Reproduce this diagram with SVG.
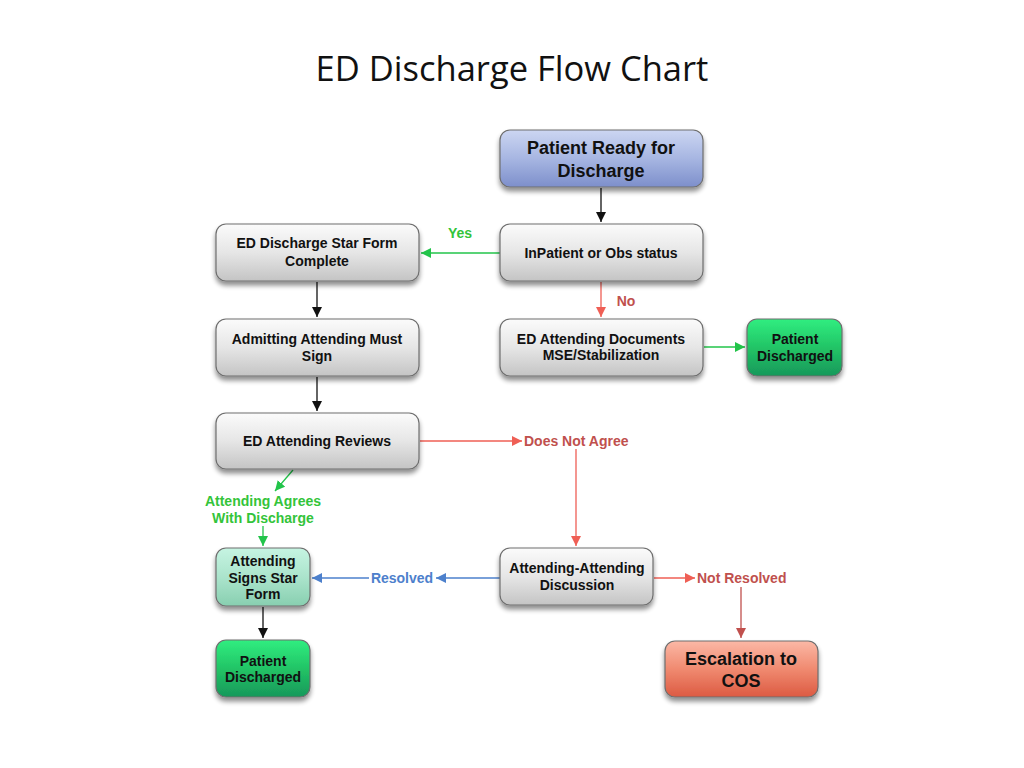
<svg xmlns="http://www.w3.org/2000/svg" width="1024" height="768" viewBox="0 0 1024 768">
<defs>
<linearGradient id="gGray" x1="0" y1="0" x2="0" y2="1"><stop offset="0" stop-color="#fbfbfb"/><stop offset="0.5" stop-color="#e6e6e6"/><stop offset="1" stop-color="#c4c4c4"/></linearGradient>
<linearGradient id="gBlue" x1="0" y1="0" x2="0" y2="1"><stop offset="0" stop-color="#ccd6f2"/><stop offset="0.5" stop-color="#a7b6e2"/><stop offset="1" stop-color="#7d8fcb"/></linearGradient>
<linearGradient id="gGreen" x1="0" y1="0" x2="0" y2="1"><stop offset="0" stop-color="#30ee80"/><stop offset="0.5" stop-color="#22c466"/><stop offset="1" stop-color="#17985a"/></linearGradient>
<linearGradient id="gTeal" x1="0" y1="0" x2="0" y2="1"><stop offset="0" stop-color="#c6f4e2"/><stop offset="0.5" stop-color="#abe4cc"/><stop offset="1" stop-color="#88cfb0"/></linearGradient>
<linearGradient id="gRed" x1="0" y1="0" x2="0" y2="1"><stop offset="0" stop-color="#fbb8a6"/><stop offset="0.5" stop-color="#f08a70"/><stop offset="1" stop-color="#dc5a42"/></linearGradient>
<filter id="sh" x="-10%" y="-10%" width="120%" height="140%"><feGaussianBlur in="SourceAlpha" stdDeviation="2.5"/><feOffset dy="4" result="b"/><feComponentTransfer><feFuncA type="linear" slope="0.45"/></feComponentTransfer><feMerge><feMergeNode/><feMergeNode in="SourceGraphic"/></feMerge></filter>
<marker id="aBlack" viewBox="0 0 10 10" refX="10" refY="5" markerWidth="10" markerHeight="10" markerUnits="userSpaceOnUse" orient="auto"><path d="M0,0 L10,5 L0,10 z" fill="#111"/></marker>
<marker id="aGreen" viewBox="0 0 10 10" refX="10" refY="5" markerWidth="10" markerHeight="10" markerUnits="userSpaceOnUse" orient="auto"><path d="M0,0 L10,5 L0,10 z" fill="#22c44a"/></marker>
<marker id="aRed" viewBox="0 0 10 10" refX="10" refY="5" markerWidth="10" markerHeight="10" markerUnits="userSpaceOnUse" orient="auto"><path d="M0,0 L10,5 L0,10 z" fill="#ef5f55"/></marker>
<marker id="aDRed" viewBox="0 0 10 10" refX="10" refY="5" markerWidth="10" markerHeight="10" markerUnits="userSpaceOnUse" orient="auto"><path d="M0,0 L10,5 L0,10 z" fill="#c0504d"/></marker>
<marker id="aBlue" viewBox="0 0 10 10" refX="10" refY="5" markerWidth="10" markerHeight="10" markerUnits="userSpaceOnUse" orient="auto"><path d="M0,0 L10,5 L0,10 z" fill="#4d80cc"/></marker>
</defs>
<style>
.box{stroke:#6e6e6e;stroke-width:1.2;filter:url(#sh)}
.t{font-family:"Liberation Sans",Arial,sans-serif;font-weight:bold;font-size:14px;fill:#111;text-anchor:middle}
.tl{font-family:"Liberation Sans",Arial,sans-serif;font-weight:bold;font-size:18px;fill:#111;text-anchor:middle}
.lbl{font-family:"Liberation Sans",Arial,sans-serif;font-weight:bold;font-size:14px}
.c{fill:none;stroke-width:1.3}
</style>
<rect width="1024" height="768" fill="#fff"/>
<text x="512" y="81" font-family="'Open Sans','Liberation Sans',sans-serif" font-size="34.5" fill="#111" text-anchor="middle">ED Discharge Flow Chart</text>

<g id="connectors">
<path class="c" d="M601,188 V222" stroke="#111" marker-end="url(#aBlack)"/>
<path class="c" d="M500,253 H421" stroke="#22c44a" marker-end="url(#aGreen)"/>
<path class="c" d="M601,282 V317" stroke="#ef5f55" marker-end="url(#aRed)"/>
<path class="c" d="M704,347 H745" stroke="#22c44a" marker-end="url(#aGreen)"/>
<path class="c" d="M317,282 V317" stroke="#111" marker-end="url(#aBlack)"/>
<path class="c" d="M317,377 V411" stroke="#111" marker-end="url(#aBlack)"/>
<path class="c" d="M420,441 H522" stroke="#ef5f55" marker-end="url(#aRed)"/>
<path class="c" d="M576,449 V546" stroke="#ef5f55" marker-end="url(#aRed)"/>
<path class="c" d="M293,470 L275,491" stroke="#22c44a" marker-end="url(#aGreen)"/>
<path class="c" d="M263,526 V546" stroke="#22c44a" marker-end="url(#aGreen)"/>
<path class="c" d="M500,578 H436" stroke="#4d80cc" marker-end="url(#aBlue)"/>
<path class="c" d="M369,578 H312" stroke="#4d80cc" marker-end="url(#aBlue)"/>
<path class="c" d="M654,578 H695" stroke="#ef5f55" marker-end="url(#aRed)"/>
<path class="c" d="M741,587 V638" stroke="#c0504d" marker-end="url(#aDRed)"/>
<path class="c" d="M263,607 V638" stroke="#111" marker-end="url(#aBlack)"/>
<text class="lbl" x="460" y="238" text-anchor="middle" fill="#33c43a">Yes</text>
<text class="lbl" x="626" y="306" text-anchor="middle" fill="#c0504d">No</text>
<text class="lbl" x="524" y="446" fill="#c0504d">Does Not Agree</text>
<text class="lbl" x="263" y="506" text-anchor="middle" fill="#33c43a">Attending Agrees</text>
<text class="lbl" x="263" y="523" text-anchor="middle" fill="#33c43a">With Discharge</text>
<text class="lbl" x="402" y="583" text-anchor="middle" fill="#4d80cc">Resolved</text>
<text class="lbl" x="697" y="583" fill="#c0504d">Not Resolved</text>
</g>

<g id="n-ready"><rect class="box" x="500" y="130" width="203" height="57" rx="10" fill="url(#gBlue)"/><text class="tl" x="601" y="154">Patient Ready for</text><text class="tl" x="601" y="177">Discharge</text></g>
<g id="n-status"><rect class="box" x="500" y="224" width="203" height="57" rx="10" fill="url(#gGray)"/><text class="t" x="601" y="258">InPatient or Obs status</text></g>
<g id="n-starform"><rect class="box" x="216" y="224" width="203" height="57" rx="10" fill="url(#gGray)"/><text class="t" x="317" y="248">ED Discharge Star Form</text><text class="t" x="317" y="266">Complete</text></g>
<g id="n-admitting"><rect class="box" x="216" y="319" width="203" height="57" rx="10" fill="url(#gGray)"/><text class="t" x="317" y="344">Admitting Attending Must</text><text class="t" x="317" y="361">Sign</text></g>
<g id="n-reviews"><rect class="box" x="216" y="413" width="203" height="56" rx="10" fill="url(#gGray)"/><text class="t" x="317" y="446">ED Attending Reviews</text></g>
<g id="n-documents"><rect class="box" x="500" y="319" width="203" height="57" rx="10" fill="url(#gGray)"/><text class="t" x="601" y="344">ED Attending Documents</text><text class="t" x="601" y="360">MSE/Stabilization</text></g>
<g id="n-discharged1"><rect class="box" x="747" y="319" width="95" height="57" rx="10" fill="url(#gGreen)"/><text class="t" x="795" y="344">Patient</text><text class="t" x="795" y="361">Discharged</text></g>
<g id="n-signs"><rect class="box" x="216" y="548" width="94" height="58" rx="10" fill="url(#gTeal)"/><text class="t" x="263" y="566">Attending</text><text class="t" x="263" y="583">Signs Star</text><text class="t" x="263" y="599">Form</text></g>
<g id="n-discharged2"><rect class="box" x="216" y="640" width="94" height="57" rx="10" fill="url(#gGreen)"/><text class="t" x="263" y="666">Patient</text><text class="t" x="263" y="682">Discharged</text></g>
<g id="n-discussion"><rect class="box" x="500" y="548" width="153" height="57" rx="10" fill="url(#gGray)"/><text class="t" x="577" y="573">Attending-Attending</text><text class="t" x="577" y="590">Discussion</text></g>
<g id="n-escalation"><rect class="box" x="665" y="641" width="153" height="56" rx="10" fill="url(#gRed)"/><text class="tl" x="741" y="665">Escalation to</text><text class="tl" x="741" y="687">COS</text></g>
</svg>
